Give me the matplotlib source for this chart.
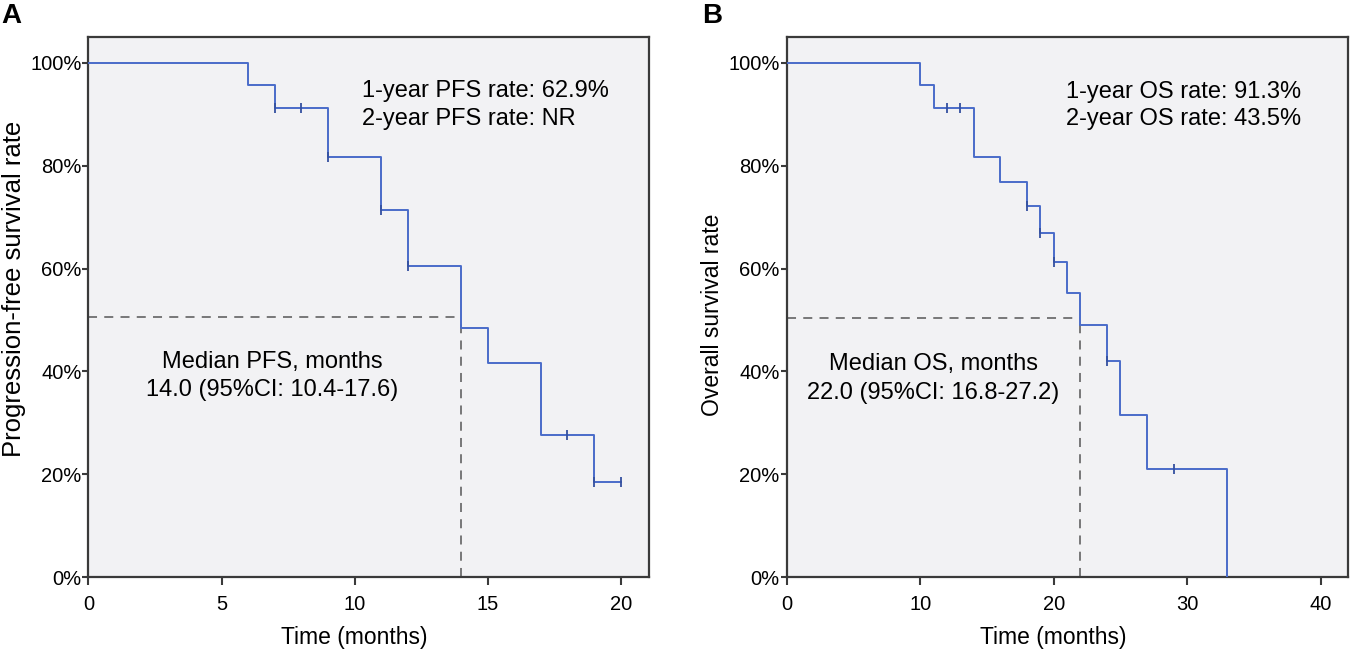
import numpy as np
import matplotlib.pyplot as plt

plt.rcParams['font.family'] = ['Liberation Sans', 'DejaVu Sans']

### PFS curve (panel A)
pfs_t = [0, 6, 7, 9, 11, 12, 14, 15, 17, 19, 20]
pfs_s = [1.0, 0.957, 0.913, 0.817, 0.714, 0.604, 0.484, 0.417, 0.277, 0.185, 0.185]
pfs_cens_t = [7, 8, 9, 11, 12, 18, 19, 20]
pfs_cens_s = [0.913, 0.913, 0.817, 0.714, 0.604, 0.277, 0.185, 0.185]

### OS curve (panel B)
os_t = [0, 10, 11, 14, 16, 18, 19, 20, 21, 22, 24, 25, 27, 33, 33]
os_s = [1.0, 0.957, 0.913, 0.817, 0.769, 0.721, 0.670, 0.613, 0.552, 0.491, 0.421, 0.316, 0.210, 0.0, 0.0]
os_cens_t = [12, 13, 18, 19, 20, 24, 29]
os_cens_s = [0.913, 0.913, 0.721, 0.670, 0.613, 0.421, 0.210]

pfs_median = 14
os_median = 22
median_level_pfs = 0.506
median_level_os = 0.504

pfs_xticks = [0, 5, 10, 15, 20]
os_xticks = [0, 10, 20, 30, 40]
yticks = [0, 0.2, 0.4, 0.6, 0.8, 1.0]
ytick_labels = ['0%', '20%', '40%', '60%', '80%', '100%']

line_col = '#4a6cc9'
cens_col = '#34509f'
bg_col = '#f2f2f4'
frame_col = '#3a3a3a'

fig = plt.figure(figsize=(13.51, 6.5), dpi=100)
ax1 = fig.add_axes([0.0655, 0.112, 0.4146, 0.831])
ax2 = fig.add_axes([0.5823, 0.112, 0.4155, 0.831])


def km_panel(ax, t, s, ct, cs, med, med_lvl, xmax, xticks, ylabel, ylab_size, ylab_y):
    ax.set_facecolor(bg_col)
    ax.step(t, s, where='post', color=line_col, lw=1.4, zorder=3)
    ax.plot(ct, cs, ls='none', marker='|', ms=7, mew=1.3, color=cens_col, zorder=4)
    ax.plot([0, med], [med_lvl, med_lvl], ls=(0, (5, 4)), color='#6e6e6e', lw=1.3, zorder=2)
    ax.plot([med, med], [0, med_lvl], ls=(0, (5, 4)), color='#6e6e6e', lw=1.3, zorder=2)
    ax.set_xlim(0, xmax)
    ax.set_ylim(0, 1.05)
    ax.set_xticks(xticks)
    ax.set_yticks(yticks)
    ax.set_yticklabels(ytick_labels)
    ax.tick_params(axis='x', labelsize=14.5, length=6, width=1.5, color=frame_col, pad=7)
    ax.tick_params(axis='y', labelsize=14.5, length=4, width=1.5, color=frame_col, pad=1)
    for sp in ax.spines.values():
        sp.set_color(frame_col)
        sp.set_linewidth(1.6)
    ax.set_xlabel('Time (months)', fontsize=16.5)
    ax.xaxis.set_label_coords(0.474, -0.09)
    ax.set_ylabel(ylabel, fontsize=ylab_size)
    ax.yaxis.set_label_coords(-0.112, ylab_y)


km_panel(ax1, pfs_t, pfs_s, pfs_cens_t, pfs_cens_s, pfs_median, median_level_pfs,
         21.05, pfs_xticks, 'Progression-free survival rate', 18.5, 0.534)
km_panel(ax2, os_t, os_s, os_cens_t, os_cens_s, os_median, median_level_os,
         42.05, os_xticks, 'Overall survival rate', 16.5, 0.485)

ax1.text(10.27, 0.946, '1-year PFS rate: 62.9%', fontsize=17, va='center', ha='left')
ax1.text(10.27, 0.891, '2-year PFS rate: NR', fontsize=17, va='center', ha='left')
ax1.text(6.9, 0.419, 'Median PFS, months', fontsize=17, va='center', ha='center')
ax1.text(6.9, 0.363, '14.0 (95%CI: 10.4-17.6)', fontsize=17, va='center', ha='center')

ax2.text(20.9, 0.944, '1-year OS rate: 91.3%', fontsize=17, va='center', ha='left')
ax2.text(20.9, 0.890, '2-year OS rate: 43.5%', fontsize=17, va='center', ha='left')
ax2.text(11.0, 0.414, 'Median OS, months', fontsize=17, va='center', ha='center')
ax2.text(11.0, 0.358, '22.0 (95%CI: 16.8-27.2)', fontsize=17, va='center', ha='center')

fig.text(0.001, 0.975, 'A', fontsize=20, fontweight='bold', va='center', ha='left')
fig.text(0.520, 0.975, 'B', fontsize=20, fontweight='bold', va='center', ha='left')

fig.savefig('out.png', dpi=100)
